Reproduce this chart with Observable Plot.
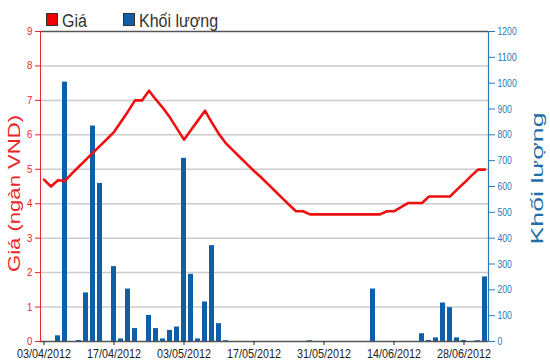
<!DOCTYPE html>
<html><head><meta charset="utf-8">
<script src="https://cdn.jsdelivr.net/npm/d3@7"></script>
<script src="https://cdn.jsdelivr.net/npm/@observablehq/plot@0.6"></script>
<style>
body{margin:0;background:#fff;}
#legend{position:relative;width:550px;height:24px;font-family:"Liberation Sans",Arial,sans-serif;font-size:18px;color:#333;line-height:18px;}
#legend .sw{position:absolute;top:13px;width:10px;height:11px;border:1px solid #333;}
#legend .tx{position:absolute;top:12px;white-space:nowrap;transform:scaleX(0.89);transform-origin:0 50%;}
</style></head><body>
<div id="legend">
  <div class="sw" style="left:46px;background:#ee0000"></div><span class="tx" style="left:62px">Giá</span>
  <div class="sw" style="left:123px;background:#0e5ea8"></div><span class="tx" style="left:139px">Khối lượng</span>
</div>
<div id="chart"></div>
<script>
const dates = ["03/04/2012","04/04/2012","05/04/2012","06/04/2012","09/04/2012","10/04/2012","11/04/2012","12/04/2012","13/04/2012","16/04/2012",
"17/04/2012","18/04/2012","19/04/2012","20/04/2012","23/04/2012","24/04/2012","25/04/2012","26/04/2012","27/04/2012","02/05/2012",
"03/05/2012","04/05/2012","07/05/2012","08/05/2012","09/05/2012","10/05/2012","11/05/2012","14/05/2012","15/05/2012","16/05/2012",
"17/05/2012","18/05/2012","21/05/2012","22/05/2012","23/05/2012","24/05/2012","25/05/2012","28/05/2012","29/05/2012","30/05/2012",
"31/05/2012","01/06/2012","04/06/2012","05/06/2012","06/06/2012","07/06/2012","08/06/2012","11/06/2012","12/06/2012","13/06/2012",
"14/06/2012","15/06/2012","18/06/2012","19/06/2012","20/06/2012","21/06/2012","22/06/2012","25/06/2012","26/06/2012","27/06/2012",
"28/06/2012","29/06/2012","02/07/2012","03/07/2012"];
const price = [4.70,4.50,4.68,4.66,4.88,5.08,5.28,5.48,5.68,5.88,
6.08,6.38,6.68,7.00,7.00,7.28,7.02,6.78,6.50,6.18,
5.86,6.14,6.42,6.70,6.35,6.02,5.75,5.55,5.35,5.15,
4.95,4.77,4.57,4.37,4.17,3.97,3.78,3.78,3.69,3.69,
3.69,3.69,3.69,3.69,3.69,3.69,3.69,3.69,3.69,3.78,
3.78,3.90,4.02,4.02,4.02,4.21,4.21,4.21,4.21,4.41,
4.60,4.80,4.99,4.99];
const volume = [0,0,22,1004,0,4,188,834,612,0,
290,10,203,50,0,101,50,10,43,56,
709,260,10,153,371,69,3,0,0,0,
0,0,0,0,0,0,0,0,3,0,
0,0,0,0,0,0,0,203,0,0,
0,0,0,0,30,4,14,149,131,14,
4,0,3,250];
const xTicks = ["03/04/2012","17/04/2012","03/05/2012","17/05/2012","31/05/2012","14/06/2012","28/06/2012"];
const priceTicks = [0,1,2,3,4,5,6,7,8,9];
const volumeTicks = [0,100,200,300,400,500,600,700,800,900,1000,1100,1200];
const priceMax = 9, volumeMax = 1200;
const k = priceMax / volumeMax;

const data = dates.map((d, i) => ({date: d, price: price[i], volume: volume[i]}));
const sans = '"Liberation Sans",Arial,sans-serif';
const red = "#e8262b", blue = "#2a78b3";

const chart = Plot.plot({
  width: 550, height: 340,
  marginTop: 7, marginBottom: 23, marginLeft: 40, marginRight: 62,
  style: {fontFamily: sans, background: "#fff"},
  x: {type: "band", domain: dates, paddingInner: 0.3, paddingOuter: 0},
  y: {domain: [0, priceMax]},
  marks: [
    Plot.gridY(priceTicks.slice(1, -1), {stroke: "#cccccc", strokeOpacity: 1, strokeWidth: 1.5}),
    Plot.ruleY([priceMax], {stroke: "#555", strokeWidth: 1.5}),
    Plot.barY(data.filter(d => d.volume > 0), {x: "date", y: d => d.volume * k, fill: "#0e5ea8"}),
    Plot.lineY(data, {x: "date", y: "price", stroke: "#f01010", strokeWidth: 2.6, curve: "linear"}),
    Plot.ruleY([0], {stroke: "#555", strokeWidth: 1.5}),
    Plot.frame({anchor: "left", stroke: red, strokeWidth: 1}),
    Plot.frame({anchor: "right", stroke: blue, strokeWidth: 1.2}),
    Plot.axisY({anchor: "left", ticks: priceTicks, tickSize: 5, tickPadding: 3, color: red, label: null, fontSize: 11, fontFamily: sans, className: "yl"}),
    Plot.axisY({anchor: "right", ticks: volumeTicks.map(v => v * k), tickFormat: v => String(Math.round(v / k)), tickSize: 6, tickPadding: 3, color: blue, label: null, fontSize: 11, fontFamily: sans, className: "yr"}),
    Plot.axisX({ticks: xTicks, tickSize: 4, tickPadding: 3, color: "#222", label: null, fontSize: 13, fontFamily: sans, className: "xa"}),
    Plot.text(["Giá (ngàn VND)"], {frameAnchor: "left", textAnchor: "middle", dx: -26, dy: 7, rotate: -90, fill: red, fontSize: 17, fontFamily: sans, className: "ttl-left"}),
    Plot.text(["Khối lượng"], {frameAnchor: "right", textAnchor: "middle", dx: 49, dy: -8, rotate: -90, fill: "#1f6ea9", fontSize: 17, fontFamily: sans, className: "ttl-right"})
  ]
});
document.getElementById("chart").appendChild(chart);
const svg = d3.select(chart);
svg.selectAll(".ttl-left text").attr("textLength", 157).attr("lengthAdjust", "spacingAndGlyphs");
svg.selectAll(".ttl-right text").attr("textLength", 132).attr("lengthAdjust", "spacingAndGlyphs");
svg.selectAll(".xa text").attr("textLength", 54).attr("lengthAdjust", "spacingAndGlyphs");
svg.selectAll(".yr text").each(function() {
  const n = this.textContent.length;
  d3.select(this).attr("textLength", n * 4.8).attr("lengthAdjust", "spacingAndGlyphs");
});
svg.selectAll(".yl text").attr("textLength", 5.4).attr("lengthAdjust", "spacingAndGlyphs");
</script>
</body></html>
